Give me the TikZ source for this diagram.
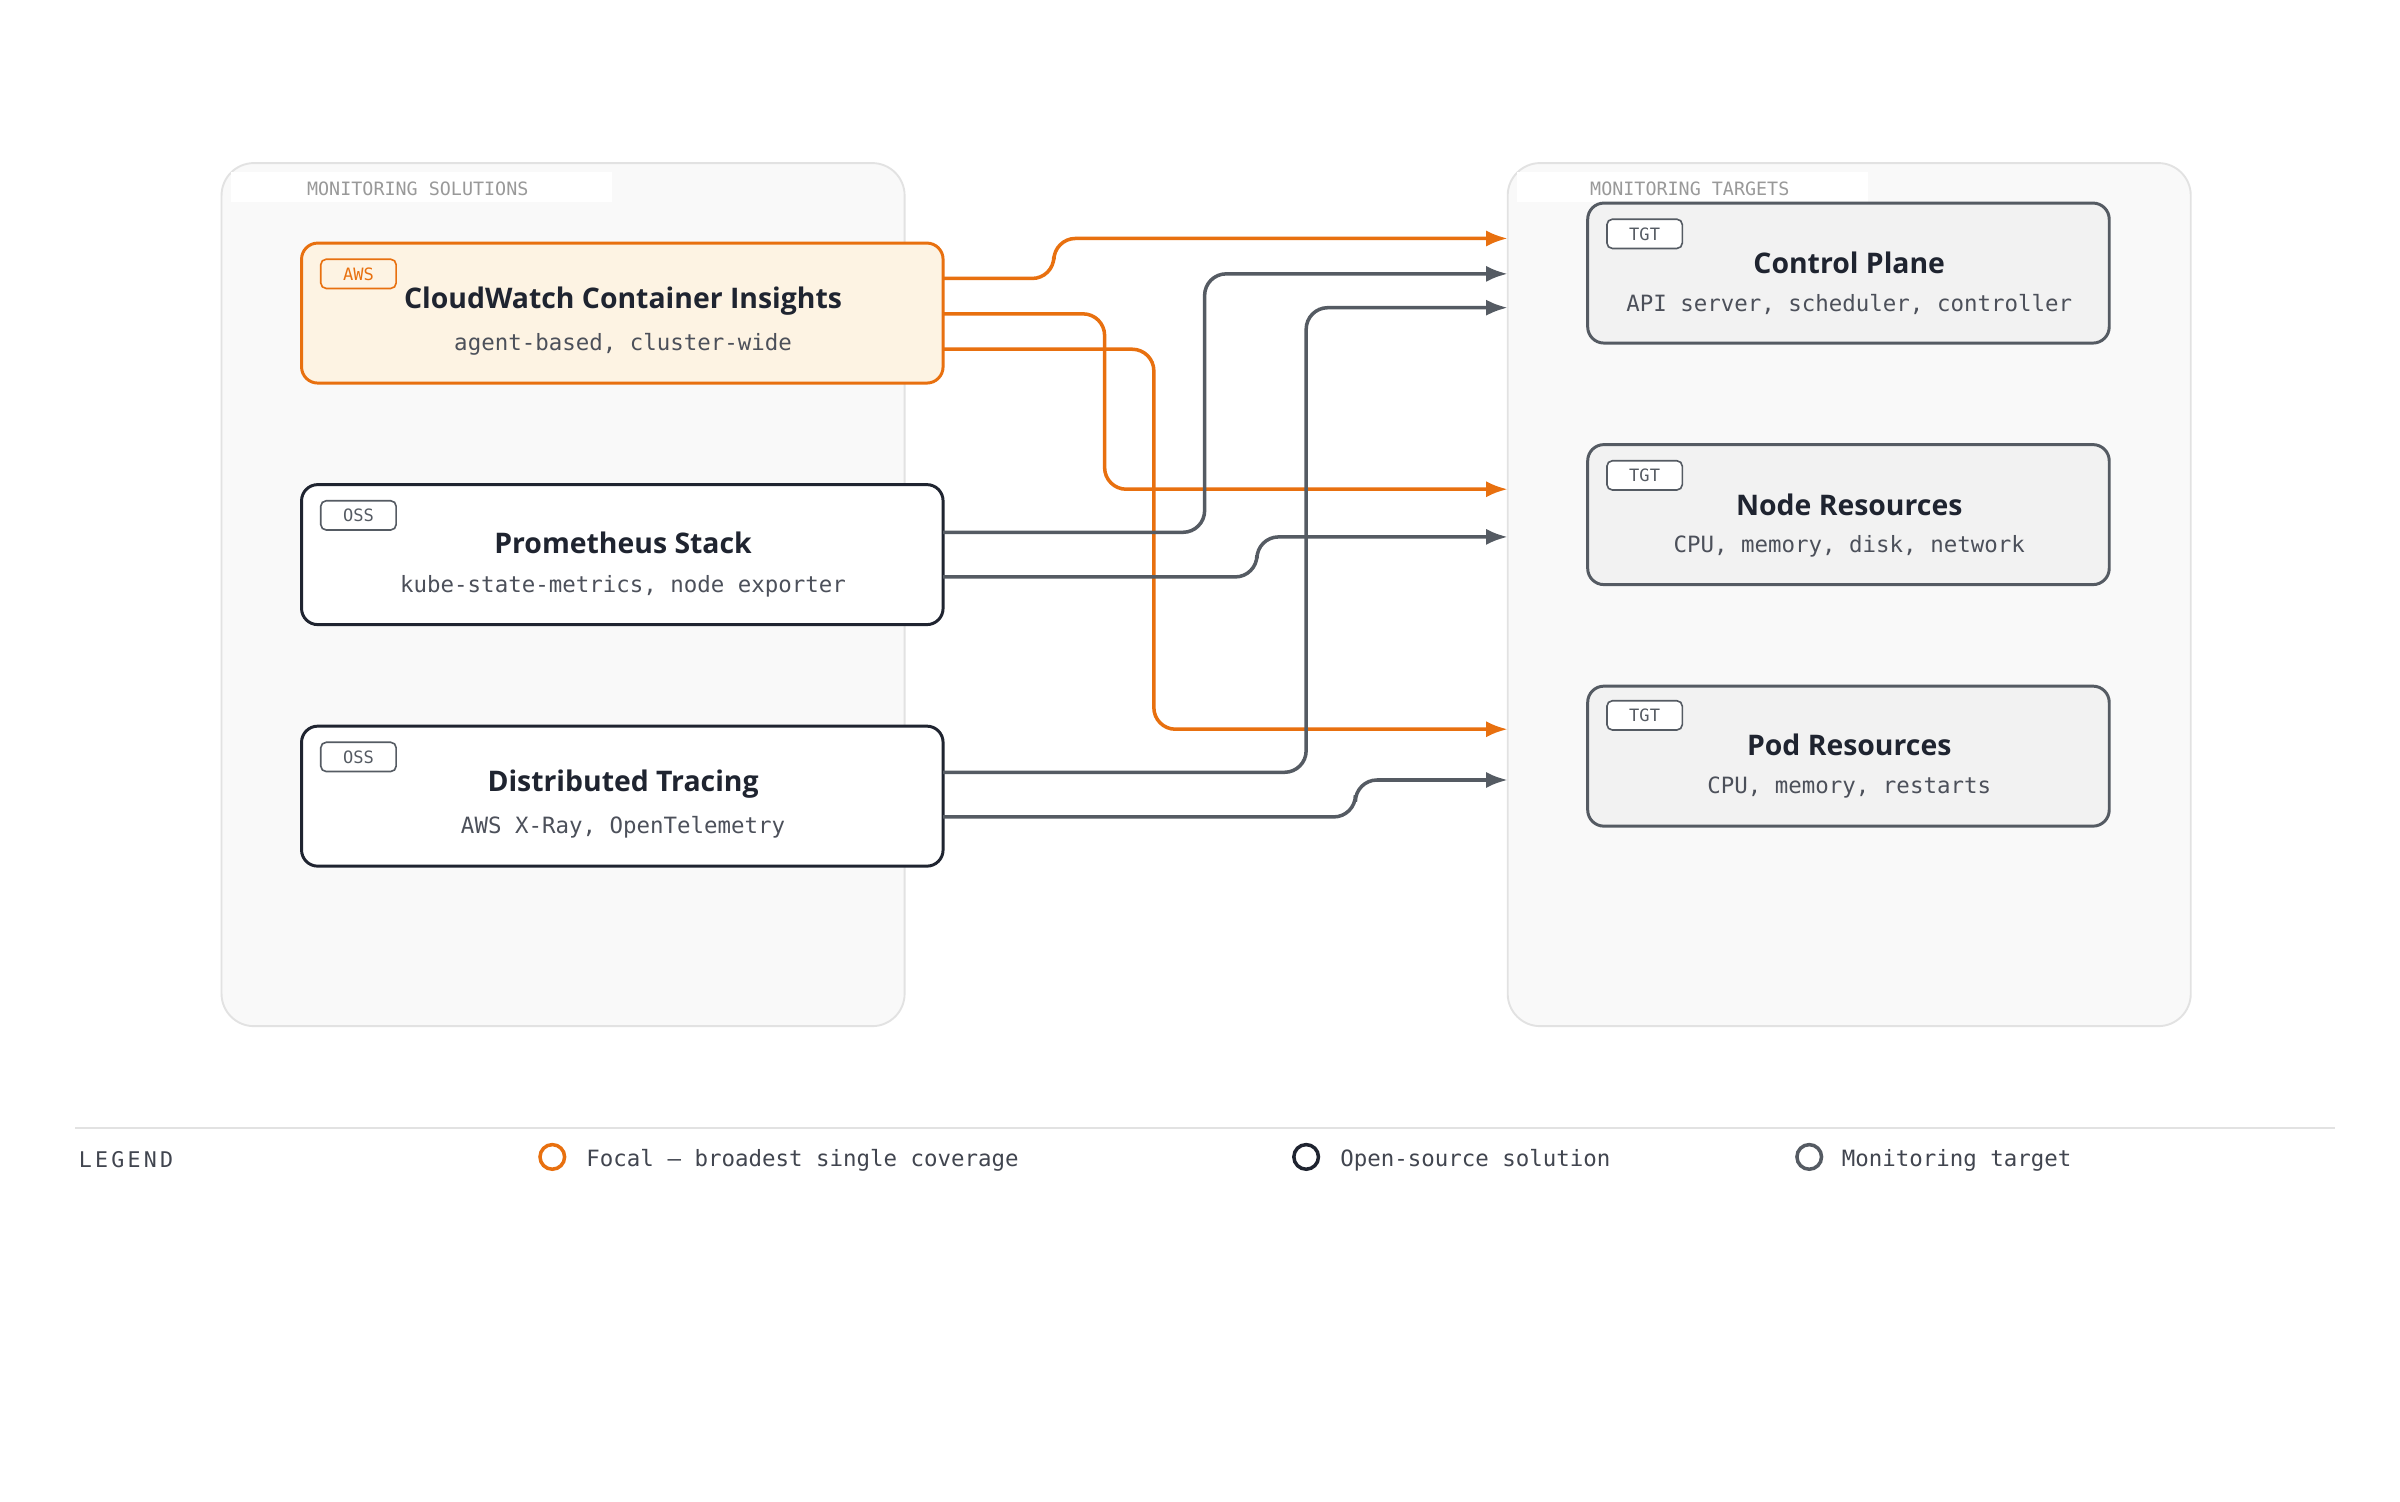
\documentclass[tikz,border=0pt]{standalone}
\usepackage{fontspec}
\setmainfont{Open Sans}
\newfontfamily\mono{DejaVu Sans Mono}
\usetikzlibrary{arrows.meta}
\definecolor{org}{HTML}{E8700F}
\definecolor{orgfill}{HTML}{FDF3E3}
\definecolor{dk}{HTML}{1F2430}
\definecolor{gr}{HTML}{555B63}
\definecolor{pfill}{HTML}{F9F9F9}
\definecolor{pline}{HTML}{E2E2E2}
\definecolor{tfill}{HTML}{F2F2F2}
\begin{document}
\begin{tikzpicture}[x=0.02cm,y=-0.02cm,
 panel/.style={draw=pline,fill=pfill,rounded corners=12,line width=0.7pt},
 ptitle/.style={anchor=west,font=\mono\fontsize{6.8}{8}\selectfont,text=gray!80,inner sep=3pt},
 src/.style={draw=dk,fill=white,rounded corners=6,line width=1.1pt},
 tgt/.style={draw=gr,fill=tfill,rounded corners=6,line width=1.1pt},
 tag/.style={draw=gr,rounded corners=2,line width=0.6pt,minimum width=0.98cm,minimum height=0.38cm,inner sep=0pt,font=\mono\fontsize{6.3}{7}\selectfont,text=gr,fill=white},
 ttl/.style={font=\bfseries\fontsize{10.5}{12}\selectfont,text=dk},
 sub/.style={font=\mono\fontsize{8.3}{10}\selectfont,text=dk!80},
 oa/.style={draw=org,line width=1.3pt,rounded corners=8,-{Latex[length=8pt,width=6pt]}},
 ga/.style={draw=gr,line width=1.3pt,rounded corners=8,-{Latex[length=8pt,width=6pt]}},
 leg/.style={anchor=west,font=\mono\fontsize{8.3}{10}\selectfont,text=dk!85}]
\useasboundingbox (0,0) rectangle (1560,976);
\fill[white] (0,0) rectangle (1560,976);
% panels
\draw[panel] (144,106) rectangle (588,667);
\draw[panel] (980,106) rectangle (1424,667);
\fill[white] (150,112) rectangle (398,131);
\fill[white] (986,112) rectangle (1214,131);
\node[ptitle] (lt) at (194,123) {MONITORING SOLUTIONS};
\node[ptitle] (rt) at (1028,123) {MONITORING TARGETS};
% sources
\draw[src,draw=org,fill=orgfill] (196,158) rectangle (613,249);
\node[tag,draw=org,text=org,fill=orgfill] (t1) at (233,178) {AWS};
\node[ttl] (s1) at (405,196) {CloudWatch Container Insights};
\node[sub] (s1b) at (405,224) {agent-based, cluster-wide};
\draw[src] (196,315) rectangle (613,406);
\node[tag] (t2) at (233,335) {OSS};
\node[ttl] (s2) at (405,353) {Prometheus Stack};
\node[sub] (s2b) at (405,381) {kube-state-metrics, node exporter};
\draw[src] (196,472) rectangle (613,563);
\node[tag] (t3) at (233,492) {OSS};
\node[ttl] (s3) at (405,510) {Distributed Tracing};
\node[sub] (s3b) at (405,538) {AWS X-Ray, OpenTelemetry};
% targets
\draw[tgt] (1032,132) rectangle (1371,223);
\node[tag] (u1) at (1069,152) {TGT};
\node[ttl] (g1) at (1202,171) {Control Plane};
\node[sub] (g1b) at (1202,198) {API server, scheduler, controller};
\draw[tgt] (1032,289) rectangle (1371,380);
\node[tag] (u2) at (1069,309) {TGT};
\node[ttl] (g2) at (1202,328) {Node Resources};
\node[sub] (g2b) at (1202,355) {CPU, memory, disk, network};
\draw[tgt] (1032,446) rectangle (1371,537);
\node[tag] (u3) at (1069,465) {TGT};
\node[ttl] (g3) at (1202,484) {Pod Resources};
\node[sub] (g3b) at (1202,512) {CPU, memory, restarts};
% connectors
\coordinate (a1) at (613,181); \coordinate (b1) at (980,155);
\coordinate (a2) at (613,204); \coordinate (b2) at (980,318);
\coordinate (a3) at (613,227); \coordinate (b3) at (980,474);
\coordinate (a4) at (613,346); \coordinate (b4) at (980,178);
\coordinate (a5) at (613,375); \coordinate (b5) at (980,349);
\coordinate (a6) at (613,502); \coordinate (b6) at (980,200);
\coordinate (a7) at (613,531); \coordinate (b7) at (980,507);
\draw[oa] (a1) -- (685,181) -- (685,155) -- (b1);
\draw[oa] (a2) -- (718,204) -- (718,318) -- (b2);
\draw[oa] (a3) -- (750,227) -- (750,474) -- (b3);
\draw[ga] (a4) -- (783,346) -- (783,178) -- (b4);
\draw[ga] (a5) -- (817,375) -- (817,349) -- (b5);
\draw[ga] (a6) -- (849,502) -- (849,200) -- (b6);
\draw[ga] (a7) -- (881,531) -- (881,507) -- (b7);
% legend
\draw[pline,line width=0.8pt] (49,733) -- (1518,733);
\node[leg,font=\mono\fontsize{8}{10}\selectfont\addfontfeature{LetterSpace=15}] (lg) at (45,754) {LEGEND};
\draw[org,line width=1.3pt] (359,752) circle (8);
\node[leg] (l1) at (375,754) {Focal — broadest single coverage};
\draw[dk,line width=1.3pt] (849,752) circle (8);
\node[leg] (l2) at (865,754) {Open-source solution};
\draw[gr,line width=1.3pt] (1176,752) circle (8);
\node[leg] (l3) at (1191,754) {Monitoring target};
\end{tikzpicture}
\end{document}
